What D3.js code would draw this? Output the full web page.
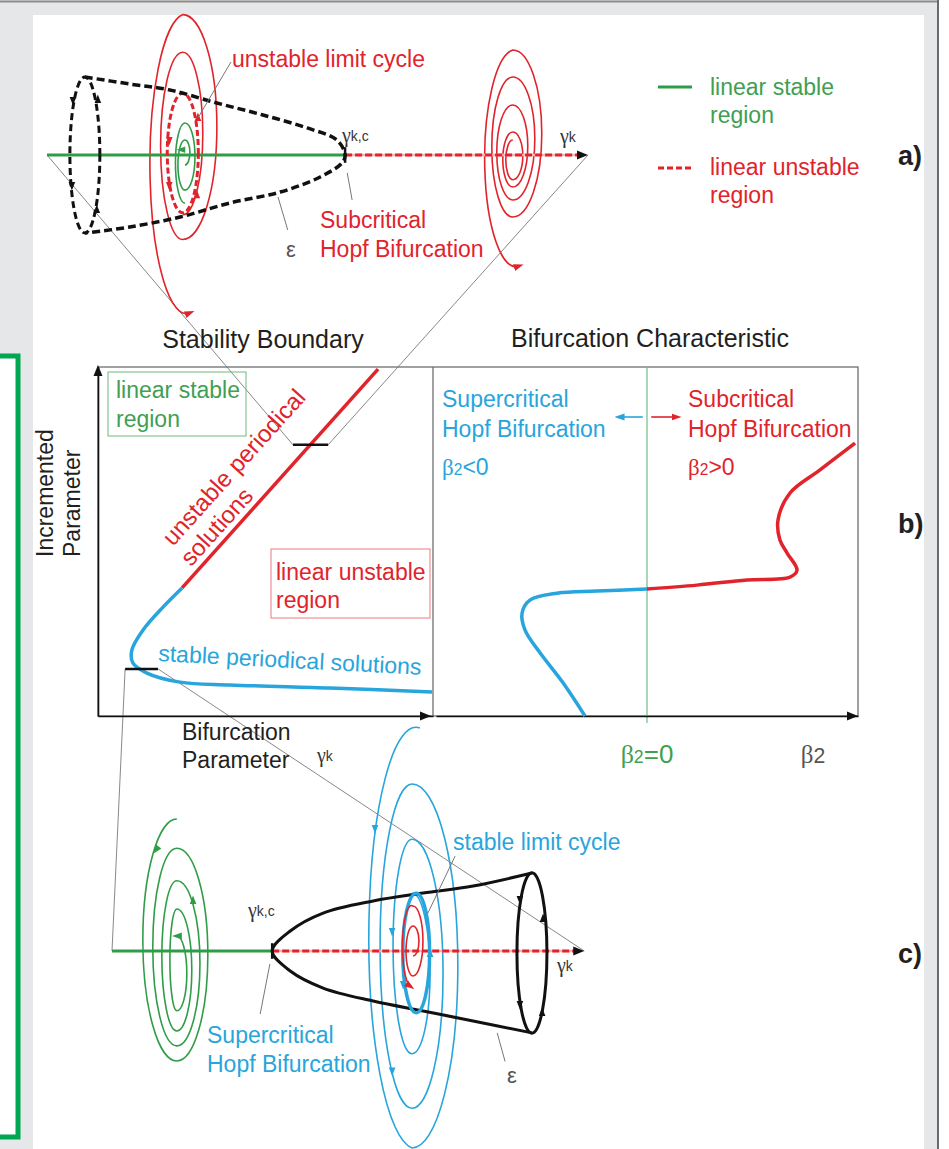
<!DOCTYPE html>
<html>
<head>
<meta charset="utf-8">
<script src="https://cdn.jsdelivr.net/npm/d3@7"></script>
<style>
  body { margin: 0; background: #e6e7e8; }
  svg { display: block; }
  text { font-family: "Liberation Sans", Arial, Helvetica, sans-serif; }
</style>
</head>
<body>
<svg id="chart"></svg>
<script>
// ---------- a) subcritical Hopf, units: (gamma_k along axis, amplitude) ----------
const critA = 5.51;
const coneA = [[0.70,0.60],[1.53,0.546],[2.27,0.50],[3.14,0.40],[3.99,0.308],[4.81,0.208],[5.36,0.115],[5.51,0],
               [5.45,-0.062],[5.05,-0.169],[4.31,-0.285],[3.38,-0.369],[2.46,-0.477],[1.53,-0.554],[0.70,-0.60]];
const capA = [0.70, 0, 0.277, 0.60];            // cx, cy, rx, ry
const cycleA = [2.51, 0.015, 0.287, 0.46];
const capArrowsA = [[0.48,0.423,180],[0.46,-0.23,180],[0.94,0.423,0],[0.92,-0.423,0]];
const cycleArrowsA = [[2.26,0.115,180],[2.26,-0.23,180],[2.77,-0.31,0],[2.79,0.285,0]];
const spiralRedA1 = {cx: 2.51, start: [2.51,-0.46], steps: [[0.79,0.37],[-0.65,0.41],[1.08,0.63],[-1.215,0.67,2.64]]};
const spiralRedA2 = {cx: 8.61, start: [8.61,0.115], steps: [[-0.19,0.13],[0.177,0.185],[-0.246,0.185],[0.385,0.277],
                     [-0.346,0.296],[0.6,0.407],[-0.477,0.388],[0.808,0.536],[-0.854,0.573,8.72]]};
const spiralGreenA = {cx: 2.55, start: [2.55,-0.077], steps: [[0.115,0.092],[-0.27,0.13],[0.246,0.185],[-0.37,0.176]]};
const greenArrowsA = [[2.50,0.04,270]];

// ---------- b) stability boundary / bifurcation characteristic ----------
const unstableBranch = [[2.51,3.67],[8.36,9.94]];
const stableBranch = [[2.51,3.67],[1.94,3.12],[1.34,2.46],[1.01,1.89],[1.04,1.52],[1.46,1.23],[2.45,0.97],[3.94,0.89],[6.93,0.80],[9.97,0.69]];
const tickHi = [5.82, 6.87, 7.77];   // x0, x1, y
const tickLo = [0.81, 1.79, 1.35];
const superBranch = [[-2.94,0],[-3.98,0.95],[-5.07,1.81],[-5.78,2.46],[-5.92,2.95],[-5.55,3.32],[-4.27,3.52],[-2.37,3.58],[0,3.64]];
const subBranch = [[0,3.64],[2.37,3.75],[4.74,3.90],[6.78,3.98],[7.11,4.18],[6.64,4.67],[6.30,5.04],[6.21,5.62],[6.78,6.39],[8.20,7.05],[9.86,7.82]];

// ---------- c) supercritical Hopf ----------
const critC = 3.46;
const axisEndC = 10.2;
const coneC = [[9.07,0.60],[7.80,0.50],[6.72,0.446],[5.64,0.385],[4.56,0.292],[3.85,0.154],[3.46,0],
               [3.85,-0.154],[4.56,-0.285],[5.64,-0.385],[6.72,-0.462],[7.80,-0.538],[9.07,-0.63]];
const capC = [9.07, -0.015, 0.324, 0.617];
const capArrowsC = [[8.81,0.40,180],[8.81,-0.408,180],[9.31,0.246,0],[9.29,-0.477,0]];
const cycleC = [6.57, -0.015, 0.29, 0.46];
const cycleArrowsC = [[6.29,-0.254,180],[6.87,-0.023,0]];
const spiralBlueC = {cx: 6.48, start: [6.65,1.715], steps: [[-1.515,1.015],[1.285,0.99],[-1.21,0.69],[0.86,0.67],[-0.79,0.41],[0.446,0.39]]};
const blueArrowsC = [[5.68,0.946,180],[6.05,-0.92,180],[6.05,0.154,180]];
const spiralRedC = {cx: 6.50, start: [6.50,-0.038], steps: [[0.192,0.13],[-0.192,0.15],[0.346,0.216],[-0.27,0.194,6.44]]};
const spiralGreenC = {cx: 1.40, start: [1.40,1.015], steps: [[-0.846,0.734],[0.79,0.67],[-0.73,0.52],[0.54,0.50],[-0.615,0.324],[0.323,0.324],[-0.46,0.15],[0.115,0.216]]};
const greenArrowsC = [[0.97,0.785,215],[1.75,0.385,0]];

const W = 949, H = 1149;
const RED = '#e1242b', BLUE = '#27a5dc', GREEN = '#2f9d47', GREEN_TXT = '#3f9f52', INK = '#231f20', GREY = '#6d6e71';

const svg = d3.select('#chart').attr('width', W).attr('height', H);

// page frame
svg.append('rect').attr('width', W).attr('height', H).attr('fill', '#e6e7e8');
svg.append('rect').attr('x', 33).attr('y', 15).attr('width', 891).attr('height', H - 15).attr('fill', '#fff');
svg.append('rect').attr('x', 939).attr('y', 0).attr('width', 10).attr('height', H).attr('fill', '#fff');
svg.append('line').attr('x1', 0).attr('x2', 939).attr('y1', 1.5).attr('y2', 1.5).attr('stroke', '#8c8c8c').attr('stroke-width', 2);
svg.append('line').attr('x1', 938).attr('x2', 938).attr('y1', 0).attr('y2', H).attr('stroke', '#6a6a6a').attr('stroke-width', 2);
svg.append('rect').attr('x', -10).attr('y', 356).attr('width', 28).attr('height', 781)
  .attr('fill', '#fff').attr('stroke', '#00a651').attr('stroke-width', 5);

// scales
const xa = d3.scaleLinear().domain([0, 10]).range([47, 588]);
const ya = d3.scaleLinear().domain([-1, 1]).range([285, 25]);
const xb = d3.scaleLinear().domain([0, 10]).range([98, 433]);
const yb = d3.scaleLinear().domain([0, 10]).range([716, 367]);
const xr = d3.scaleLinear().domain([-10, 10]).range([436, 858]);
const xc = d3.scaleLinear().domain([0, 10]).range([112, 575]);
const yc = d3.scaleLinear().domain([-1, 1]).range([1081, 821]);

const defs = svg.append('defs');
[['red', RED], ['blue', BLUE], ['green', GREEN]].forEach(([id, c]) => {
  defs.append('marker').attr('id', 'arr-' + id).attr('viewBox', '0 0 10 10')
    .attr('refX', 5).attr('refY', 5).attr('markerWidth', 10).attr('markerHeight', 10)
    .attr('markerUnits', 'userSpaceOnUse').attr('orient', 'auto')
    .append('path').attr('d', 'M0,1.5 L10,5 L0,8.5 Z').attr('fill', c);
});

const curve = (sx, sy) => d3.line().x(d => sx(d[0])).y(d => sy(d[1])).curve(d3.curveCatmullRom.alpha(0.5));

function spiralPath(s, sx, sy) {
  let px = sx(s.start[0]), py = sy(s.start[1]);
  let d = `M${px},${py}`;
  for (const [y, rx, x] of s.steps) {
    const nx = sx(x === undefined ? s.cx : x), ny = sy(y);
    const rxp = Math.abs(sx(s.cx + rx) - sx(s.cx)), ryp = Math.abs(ny - py) / 2;
    d += ` A${rxp},${ryp} 0 0 0 ${nx},${ny}`;
    px = nx; py = ny;
  }
  return d;
}
function ellipse(g, e, sx, sy) {
  return g.append('ellipse').attr('cx', sx(e[0])).attr('cy', sy(e[1]))
    .attr('rx', Math.abs(sx(e[0] + e[2]) - sx(e[0]))).attr('ry', Math.abs(sy(e[1] + e[3]) - sy(e[1])))
    .attr('fill', 'none');
}
const ARROW = 'M0,-5.5 L3.3,3 L-3.3,3 Z';
function arrows(g, data, sx, sy, color) {
  g.selectAll(null).data(data).join('path').attr('d', ARROW)
    .attr('transform', d => `translate(${sx(d[0])},${sy(d[1])}) rotate(${d[2]})`)
    .attr('fill', color);
}
const HEAD = 'M0,0 L-11,-4.5 L-11,4.5 Z';
function head(g, x, y, angle) {
  g.append('path').attr('d', HEAD).attr('transform', `translate(${x},${y}) rotate(${angle})`).attr('fill', '#111');
}
function text(g, x, y, lines, color, size = 23, lh = 29) {
  const t = g.append('text').attr('x', x).attr('y', y).attr('fill', color).attr('font-size', size);
  lines.forEach((s, i) => t.append('tspan').attr('x', x).attr('dy', i ? lh : 0).text(s));
  return t;
}
function gammaLabel(g, x, y, sub) {
  const t = g.append('text').attr('x', x).attr('y', y).attr('fill', '#333');
  t.append('tspan').attr('font-family', '"Liberation Serif", serif').attr('font-size', 20).text('γ');
  t.append('tspan').attr('font-size', 14).attr('dy', -1).text(sub);
}
function betaLabel(g, x, y, rest, color, size, anchor = 'start', subScale = 0.68) {
  const t = g.append('text').attr('x', x).attr('y', y).attr('fill', color).attr('font-size', size).attr('text-anchor', anchor);
  t.append('tspan').attr('font-family', '"Liberation Serif", serif').text('β');
  t.append('tspan').attr('font-size', size * subScale).text('2');
  if (rest) t.append('tspan').text(rest);
}
function dashedAxis(g, x0, x1, y) {
  g.append('line').attr('x1', x0).attr('x2', x1).attr('y1', y).attr('y2', y).attr('stroke', '#f5b3b5').attr('stroke-width', 2.5);
  g.append('line').attr('x1', x0).attr('x2', x1).attr('y1', y).attr('y2', y)
    .attr('stroke', RED).attr('stroke-width', 3).attr('stroke-dasharray', '7,3');
}

// zoom connectors between panels
const gLinks = svg.append('g').attr('stroke', '#7a7a7a').attr('stroke-width', 0.9);
[
  [[xa(0), ya(0)], [xb(tickHi[0]), yb(tickHi[2])]],
  [[xa(10), ya(0)], [xb(tickHi[1]), yb(tickHi[2])]],
  [[xb(tickLo[0]), yb(tickLo[2])], [xc(0), yc(0)]],
  [[xb(tickLo[1]), yb(tickLo[2])], [xc(axisEndC), yc(0)]]
].forEach(([p, q]) => gLinks.append('line').attr('x1', p[0]).attr('y1', p[1]).attr('x2', q[0]).attr('y2', q[1]));

// ================= a) =================
const gA = svg.append('g');
gA.append('path').attr('d', spiralPath(spiralRedA1, xa, ya)).attr('fill', 'none').attr('stroke', RED).attr('stroke-width', 1.6).attr('marker-end', 'url(#arr-red)');
gA.append('path').attr('d', spiralPath(spiralRedA2, xa, ya)).attr('fill', 'none').attr('stroke', RED).attr('stroke-width', 1.6).attr('marker-end', 'url(#arr-red)');
gA.append('path').attr('d', spiralPath(spiralGreenA, xa, ya)).attr('fill', 'none').attr('stroke', GREEN).attr('stroke-width', 1.6);
arrows(gA, greenArrowsA, xa, ya, GREEN);

gA.append('line').attr('x1', xa(0)).attr('x2', xa(critA)).attr('y1', ya(0)).attr('y2', ya(0)).attr('stroke', GREEN).attr('stroke-width', 3);
dashedAxis(gA, xa(critA), xa(10) - 8, ya(0));
head(gA, xa(10), ya(0), 0);

ellipse(gA, cycleA, xa, ya).attr('stroke', RED).attr('stroke-width', 3).attr('stroke-dasharray', '6,3');
arrows(gA, cycleArrowsA, xa, ya, RED);
ellipse(gA, capA, xa, ya).attr('stroke', '#111').attr('stroke-width', 3).attr('stroke-dasharray', '7,4');
arrows(gA, capArrowsA, xa, ya, '#111');
gA.append('path').attr('d', curve(xa, ya)(coneA)).attr('fill', 'none').attr('stroke', '#111').attr('stroke-width', 3.5).attr('stroke-dasharray', '8,4');
gA.append('line').attr('x1', xa(critA)).attr('x2', xa(critA)).attr('y1', ya(0.06)).attr('y2', ya(-0.06)).attr('stroke', '#111').attr('stroke-width', 2.5);

const leadA = [[[3.40,0.715],[2.79,0.285]], [[5.64,-0.346],[5.55,-0.138]], [[4.45,-0.577],[4.27,-0.323]]];
leadA.forEach(([p, q]) => gA.append('line').attr('x1', xa(p[0])).attr('y1', ya(p[1])).attr('x2', xa(q[0])).attr('y2', ya(q[1])).attr('stroke', '#777').attr('stroke-width', 1));

text(gA, 232, 67, ['unstable limit cycle'], RED);
text(gA, 320, 228, ['Subcritical', 'Hopf Bifurcation'], RED);
text(gA, 286, 257, ['ε'], '#555', 22);
gammaLabel(gA, 342, 142, 'k,c');
gammaLabel(gA, 560, 143, 'k');

gA.append('line').attr('x1', 658).attr('x2', 692).attr('y1', 87).attr('y2', 87).attr('stroke', GREEN).attr('stroke-width', 3);
text(gA, 710, 95, ['linear stable', 'region'], GREEN_TXT, 23, 28);
gA.append('line').attr('x1', 658).attr('x2', 692).attr('y1', 168).attr('y2', 168).attr('stroke', RED).attr('stroke-width', 3).attr('stroke-dasharray', '6,3');
text(gA, 710, 175, ['linear unstable', 'region'], RED, 23, 28);
text(gA, 898, 165, ['a)'], INK, 27).attr('font-weight', 'bold');

// ================= b) =================
const gB = svg.append('g');
text(gB, 263, 348, ['Stability Boundary'], INK, 25).attr('text-anchor', 'middle');
text(gB, 650, 347, ['Bifurcation Characteristic'], INK, 25).attr('text-anchor', 'middle');

gB.append('rect').attr('x', xb(0)).attr('y', yb(10)).attr('width', xr(10) - xb(0)).attr('height', yb(0) - yb(10))
  .attr('fill', 'none').attr('stroke', GREY).attr('stroke-width', 1.3);
gB.append('line').attr('x1', xb(10)).attr('x2', xb(10)).attr('y1', yb(10)).attr('y2', yb(0)).attr('stroke', GREY).attr('stroke-width', 1.3);
gB.append('line').attr('x1', xr(0)).attr('x2', xr(0)).attr('y1', yb(10)).attr('y2', yb(-0.2)).attr('stroke', '#7cc08a').attr('stroke-width', 1.3);

const axX = gB.append('g').attr('transform', `translate(0,${yb(0)})`).call(d3.axisBottom(xb).tickValues([]).tickSizeOuter(0));
const axX2 = gB.append('g').attr('transform', `translate(0,${yb(0)})`).call(d3.axisBottom(xr).tickValues([]).tickSizeOuter(0));
const axY = gB.append('g').attr('transform', `translate(${xb(0)},0)`).call(d3.axisLeft(yb).tickValues([]).tickSizeOuter(0));
[axX, axX2, axY].forEach(a => a.select('.domain').attr('stroke', '#111').attr('stroke-width', 1.6));
head(gB, xb(10) - 2, yb(0), 0);
head(gB, xr(10), yb(0), 0);
head(gB, xb(0), yb(10) - 2, -90);

gB.append('rect').attr('x', 108).attr('y', 372).attr('width', 138).attr('height', 64).attr('fill', 'none').attr('stroke', '#6dbb7c').attr('stroke-width', 1);
text(gB, 116, 398, ['linear stable', 'region'], GREEN_TXT);
gB.append('rect').attr('x', 271).attr('y', 549).attr('width', 159).attr('height', 69).attr('fill', 'none').attr('stroke', '#ea7b7f').attr('stroke-width', 1);
text(gB, 276, 580, ['linear unstable', 'region'], RED, 23, 28);

gB.append('path').attr('d', curve(xb, yb)(unstableBranch)).attr('fill', 'none').attr('stroke', RED).attr('stroke-width', 3.5);
gB.append('path').attr('d', curve(xb, yb)(stableBranch)).attr('fill', 'none').attr('stroke', BLUE).attr('stroke-width', 3.5);
[tickHi, tickLo].forEach(t => gB.append('line').attr('x1', xb(t[0])).attr('x2', xb(t[1])).attr('y1', yb(t[2])).attr('y2', yb(t[2])).attr('stroke', '#111').attr('stroke-width', 2.5));

const rot = gB.append('g').attr('transform', 'translate(173,547) rotate(-48)');
text(rot, 0, 0, ['unstable periodical'], RED, 24);
text(rot, -3, 27, ['solutions'], RED, 24);
text(gB, 0, 0, ['stable periodical solutions'], BLUE).attr('transform', 'translate(158,661) rotate(3)');

const yl = gB.append('g').attr('transform', 'translate(53,557) rotate(-90)');
text(yl, 0, 0, ['Incremented'], INK);
text(yl, 0, 27, ['Parameter'], INK);
text(gB, 182, 740, ['Bifurcation', 'Parameter'], INK, 23, 28);
gammaLabel(gB, 317, 762, 'k');

gB.append('path').attr('d', curve(xr, yb)(superBranch)).attr('fill', 'none').attr('stroke', BLUE).attr('stroke-width', 3.5);
gB.append('path').attr('d', curve(xr, yb)(subBranch)).attr('fill', 'none').attr('stroke', RED).attr('stroke-width', 3.5);

text(gB, 442, 407, ['Supercritical', 'Hopf Bifurcation'], BLUE, 23, 30);
betaLabel(gB, 442, 475, '<0', BLUE, 23);
text(gB, 688, 407, ['Subcritical', 'Hopf Bifurcation'], RED, 23, 30);
betaLabel(gB, 688, 475, '>0', RED, 23);
gB.append('line').attr('x1', xr(-0.2)).attr('x2', xr(-1.3)).attr('y1', 417).attr('y2', 417).attr('stroke', BLUE).attr('stroke-width', 1.6).attr('marker-end', 'url(#arr-blue)');
gB.append('line').attr('x1', xr(0.2)).attr('x2', xr(1.4)).attr('y1', 417).attr('y2', 417).attr('stroke', RED).attr('stroke-width', 1.6).attr('marker-end', 'url(#arr-red)');

betaLabel(gB, xr(0), 763, '=0', GREEN_TXT, 26, 'middle');
betaLabel(gB, 813, 763, '', '#555', 25, 'middle', 0.85);
text(gB, 898, 533, ['b)'], INK, 27).attr('font-weight', 'bold');

// ================= c) =================
const gC = svg.append('g');
gC.append('path').attr('d', spiralPath(spiralGreenC, xc, yc)).attr('fill', 'none').attr('stroke', GREEN).attr('stroke-width', 1.6).attr('marker-end', 'url(#arr-green)');
arrows(gC, greenArrowsC, xc, yc, GREEN);
gC.append('path').attr('d', spiralPath(spiralBlueC, xc, yc)).attr('fill', 'none').attr('stroke', BLUE).attr('stroke-width', 1.6);
arrows(gC, blueArrowsC, xc, yc, BLUE);

gC.append('line').attr('x1', xc(0)).attr('x2', xc(critC)).attr('y1', yc(0)).attr('y2', yc(0)).attr('stroke', GREEN).attr('stroke-width', 3);
dashedAxis(gC, xc(critC), xc(axisEndC) - 8, yc(0));
head(gC, xc(axisEndC), yc(0), 0);

gC.append('path').attr('d', curve(xc, yc)(coneC)).attr('fill', 'none').attr('stroke', '#111').attr('stroke-width', 3);
gC.append('line').attr('x1', xc(critC)).attr('x2', xc(critC)).attr('y1', yc(0.06)).attr('y2', yc(-0.06)).attr('stroke', '#111').attr('stroke-width', 2.5);
ellipse(gC, capC, xc, yc).attr('stroke', '#111').attr('stroke-width', 3);
arrows(gC, capArrowsC, xc, yc, '#111');
ellipse(gC, cycleC, xc, yc).attr('stroke', BLUE).attr('stroke-width', 3.5);
arrows(gC, cycleArrowsC, xc, yc, BLUE);
gC.append('path').attr('d', spiralPath(spiralRedC, xc, yc)).attr('fill', 'none').attr('stroke', RED).attr('stroke-width', 1.6).attr('marker-end', 'url(#arr-red)');

const leadC = [[[3.20,-0.485],[3.41,-0.10]], [[7.41,0.73],[6.82,0.29]], [[8.49,-0.85],[8.32,-0.63]]];
leadC.forEach(([p, q]) => gC.append('line').attr('x1', xc(p[0])).attr('y1', yc(p[1])).attr('x2', xc(q[0])).attr('y2', yc(q[1])).attr('stroke', '#777').attr('stroke-width', 1));

gammaLabel(gC, 248, 917, 'k,c');
gammaLabel(gC, 557, 972, 'k');
text(gC, 207, 1043, ['Supercritical', 'Hopf Bifurcation'], BLUE);
text(gC, 453, 850, ['stable limit cycle'], BLUE);
text(gC, 507, 1083, ['ε'], '#555', 22);
text(gC, 898, 963, ['c)'], INK, 27).attr('font-weight', 'bold');
</script>
</body>
</html>
